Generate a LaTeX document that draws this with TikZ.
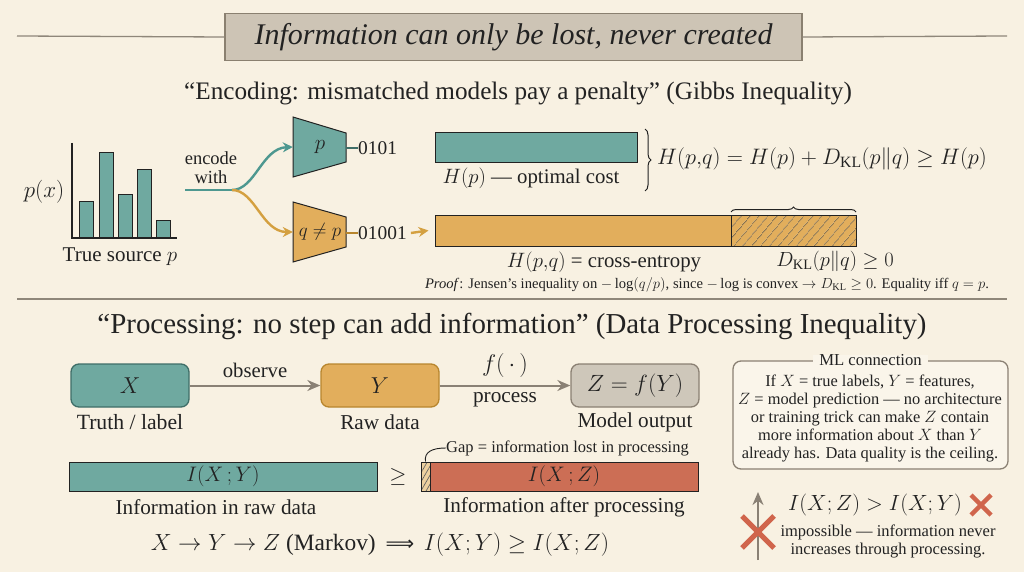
\RequirePackage{fix-cm}
\documentclass[tikz,border=0pt]{standalone}
\usepackage{amsmath}
\usepackage{fontspec}
\setmainfont{Liberation Serif}
\newfontfamily\djv{DejaVu Sans}
\usetikzlibrary{arrows.meta,patterns.meta,decorations.pathreplacing,calc}
\definecolor{bg}{HTML}{F8F1E2}
\definecolor{rulec}{HTML}{8F877A}
\definecolor{titlefill}{HTML}{CDC4B5}
\definecolor{titledraw}{HTML}{8A8070}
\definecolor{tealf}{HTML}{6FA9A0}
\definecolor{tealc}{HTML}{4E9890}
\definecolor{teald}{HTML}{3F6E68}
\definecolor{orangef}{HTML}{E2AE5C}
\definecolor{orangec}{HTML}{D4A040}
\definecolor{oranged}{HTML}{B8862E}
\definecolor{redf}{HTML}{CC6E55}
\definecolor{redx}{HTML}{D0654C}
\definecolor{greyf}{HTML}{CEC7BA}
\definecolor{greyd}{HTML}{8A8073}
\definecolor{arrowc}{HTML}{8A8175}
\definecolor{ink}{HTML}{222222}
\definecolor{mlfill}{HTML}{FAF5EA}
\newcommand\fsz[2]{\fontsize{#1}{#2}\selectfont}
\begin{document}
\begin{tikzpicture}[x=1pt,y=-1pt,
  every node/.style={text=ink, inner sep=0pt},
  rulel/.style={draw=rulec, line width=1.3pt},
  titlebox/.style={draw=titledraw, fill=titlefill, line width=1.3pt, minimum width=577pt, minimum height=47pt},
  lab/.style={font=\fsz{21.2}{24}},
  bar/.style={draw=ink, line width=1pt},
  curvet/.style={draw=tealc, line width=2.4pt, -{Stealth[length=10pt,width=10pt]}},
  curveo/.style={draw=orangec, line width=2.4pt, -{Stealth[length=10pt,width=10pt]}},
  codeline/.style={line width=1.6pt},
  flowbox/.style={rounded corners=8pt, line width=1.3pt, minimum height=43pt, font=\fsz{23}{26}},
  flowarrow/.style={draw=arrowc, line width=2pt, -{Stealth[length=13pt,width=11pt]}},
  hatch/.style={pattern={Lines[angle=50,distance=6.5pt,line width=0.6pt]}, pattern color=ink!80},
  redcross/.style={draw=redx, line width=5pt}
]
\useasboundingbox (0,0) rectangle (1024,572);
\fill[bg] (0,0) rectangle (1024,572);

% ---------- title ----------
\node[titlebox, font=\fsz{30}{34}\itshape] (title) at (513.5,37) {Information can only be lost, never created};
\draw[rulel] (17,36) -- (title.west);
\draw[rulel] (title.east) -- (1007,36);

\node[font=\fsz{25.2}{30}] (sub1) at (518,93) {``Encoding: mismatched models pay a penalty'' (Gibbs Inequality)};

% ---------- histogram ----------
\foreach \x/\t in {79/201,99/153,118/194,137/170,156/220}
  \draw[bar, fill=tealf] (\x,\t) rectangle (\x+14,238);
\draw[line width=1.4pt, draw=ink] (72,143) -- (72,238) -- (177,238);
\node[font=\fsz{23}{26}] (px) at (44,192) {$p(x)$};
\node[font=\fsz{21}{26}] (src) at (120,257) {True source $p$};

% ---------- encoders ----------
\node[font=\fsz{18.5}{19}, align=center] (enc) at (211,168) {encode\\with};
\coordinate (split) at (232,190);
\node[minimum width=53pt, minimum height=60pt] (encp) at (319.5,147) {};
\node[minimum width=53pt, minimum height=60pt] (encq) at (319.5,232) {};
\draw[bar, fill=tealf] (293,117) -- (346,133) -- (346,162) -- (293,177) -- cycle;
\draw[bar, fill=orangef] (293,202) -- (346,217) -- (346,247) -- (293,262) -- cycle;
\node[font=\fsz{21}{24}] at (320,147) {$p$};
\node[font=\fsz{19}{22}] at (320,232) {$q\neq p$};
\draw[tealc, line width=2.4pt] (185,190) -- (split);
\draw[curvet] (split) .. controls (255,190) and (262,148) .. (encp.west);
\draw[curveo] (split) .. controls (255,190) and (262,232) .. (encq.west);

\node[font=\fsz{19.4}{24}, anchor=west] (c1) at (358,148) {0101};
\node[font=\fsz{19.4}{24}, anchor=west] (c2) at (358,233) {01001};
\draw[codeline, teald] (346,148) -- (c1.west);
\draw[codeline, oranged] (346,233) -- (c2.west);

% ---------- cost bars ----------
\node[bar, fill=tealf, minimum width=202pt, minimum height=30pt] (hp) at (536,148) {};
\node[font=\fsz{20.8}{24}] (hplab) at (531,178) {$H(p)$ --- optimal cost};
\node[bar, fill=orangef, minimum width=296pt, minimum height=31pt] (hpq) at (583,230.5) {};
\fill[orangef] (731,215) rectangle (856,246);
\fill[hatch] (731,215) rectangle (856,246);
\node[bar, minimum width=125pt, minimum height=31pt] (dkl) at (793.5,230.5) {};
\draw[orangec, line width=2.4pt, -{Stealth[length=10pt,width=10pt]}] (c2.east) ++(4,0) -- ($(hpq.west)+(-6,0)$);
\node[font=\fsz{20.8}{24}] (hpqlab) at (604,262) {$H(p{,}q)$ = cross-entropy};
\node[font=\fsz{20.5}{24}] (dkllab) at (835,261) {$D_{\mathrm{KL}}(p\|q)\ge 0$};
\draw[ink, line width=1pt, decorate, decoration={brace, amplitude=5pt}] (731,212) -- (856,212);
\draw[ink, line width=1pt, decorate, decoration={brace, amplitude=6pt}] (645,129) -- (645,191);
\node[font=\fsz{22.4}{26}, anchor=west] (gibbs) at (657,159) {$H(p{,}q) = H(p) + D_{\mathrm{KL}}(p\|q) \ge H(p)$};
\node[font=\fsz{14.6}{18}] (proof) at (707,285) {\textit{Proof}: Jensen's inequality on $-\log(q/p)$, since $-\log$ is convex $\to D_{\mathrm{KL}}\ge 0$. Equality iff $q=p$.};

\draw[rulel] (17,299) -- (1007,299);

% ---------- processing ----------
\node[font=\fsz{28.9}{34}] (sub2) at (512,326) {``Processing: no step can add information'' (Data Processing Inequality)};

\node[flowbox, draw=teald, fill=tealf, minimum width=118pt] (X) at (130,385.5) {$X$};
\node[flowbox, draw=oranged, fill=orangef, minimum width=118pt] (Y) at (380,385.5) {$Y$};
\node[flowbox, draw=greyd, fill=greyf, minimum width=128pt, font=\fsz{23.5}{26}] (Z) at (635,385.5) {$Z = f(Y)$};
\draw[flowarrow] (X) -- (Y) node[midway, above=7pt, font=\fsz{20.7}{24}] (obs) {observe};
\draw[flowarrow] (Y) -- (Z) node[midway, above=7pt, font=\fsz{24}{26}] (fdot) {$f(\,\cdot\,)$}
                                node[midway, below=6pt, font=\fsz{21.3}{24}] (proc) {process};
\node[font=\fsz{21.7}{24}] (Xlab) at (130,422) {Truth / label};
\node[lab] (Ylab) at (380,422) {Raw data};
\node[lab] (Zlab) at (635,422) {Model output};

\node[bar, fill=tealf, minimum width=308pt, minimum height=29pt, font=\fsz{21}{24}] (ixy) at (223,476.5) {$I(X\,;Y)$};
\node[font=\fsz{22}{24}] (geq) at (398,477) {$\ge$};
\fill[orangef!50!bg] (421,462) rectangle (430,491);
\fill[pattern={Lines[angle=60,distance=4.5pt,line width=0.7pt]}, pattern color=ink!70] (421,462) rectangle (430,491);
\node[bar, minimum width=9pt, minimum height=29pt] (gap) at (425.5,476.5) {};
\node[bar, fill=redf, minimum width=268pt, minimum height=29pt, font=\fsz{21}{24}] (ixz) at (564,476.5) {$I(X\,;Z)$};
\node[font=\fsz{16.5}{18}, anchor=west] (gaplab) at (446,448) {Gap = information lost in processing};
\draw[ink, line width=0.9pt] (gap.north) .. controls (424,452) and (432,448) .. (gaplab.west);
\node[lab] (ixylab) at (216,507) {Information in raw data};
\node[lab] (ixzlab) at (564,507) {Information after processing};
\node[font=\fsz{23.4}{26}] (markov) at (380,545) {$X \to Y \to Z$ (Markov)\, {\djv\fsz{20}{24}⟹}\, $I(X;Y) \ge I(X;Z)$};

% ---------- ML connection ----------
\node[draw=greyd, fill=mlfill, rounded corners=8pt, line width=1.3pt, minimum width=275pt, minimum height=108pt] (ml) at (870.5,415) {};
\node[fill=mlfill, inner xsep=6pt, font=\fsz{16.7}{20}] (mltitle) at (ml.north) {ML connection};
\node[font=\fsz{16.4}{18}, align=center] (mltext) at (870,418) {If $X$ = true labels, $Y$ = features,\\$Z$ = model prediction --- no architecture\\or training trick can make $Z$ contain\\more information about $X$ than $Y$\\already has. Data quality is the ceiling.};

% ---------- impossible ----------
\coordinate (upbot) at (758,560);
\coordinate (uptop) at (758,492);
\draw[draw=arrowc, line width=2.5pt, -{Stealth[length=13pt,width=11pt]}] (upbot) -- (uptop);
\draw[redcross] (742,516) -- (774,548) (742,548) -- (774,516);
\node[font=\fsz{22}{26}] (imp) at (875,505) {$I(X;Z) > I(X;Y)$};
\draw[redcross, line width=4.5pt] (971,495) -- (991,515) (971,515) -- (991,495);
\node[font=\fsz{16.5}{18}, align=center] (impt) at (888,541) {impossible --- information never\\increases through processing.};
\end{tikzpicture}
\end{document}
